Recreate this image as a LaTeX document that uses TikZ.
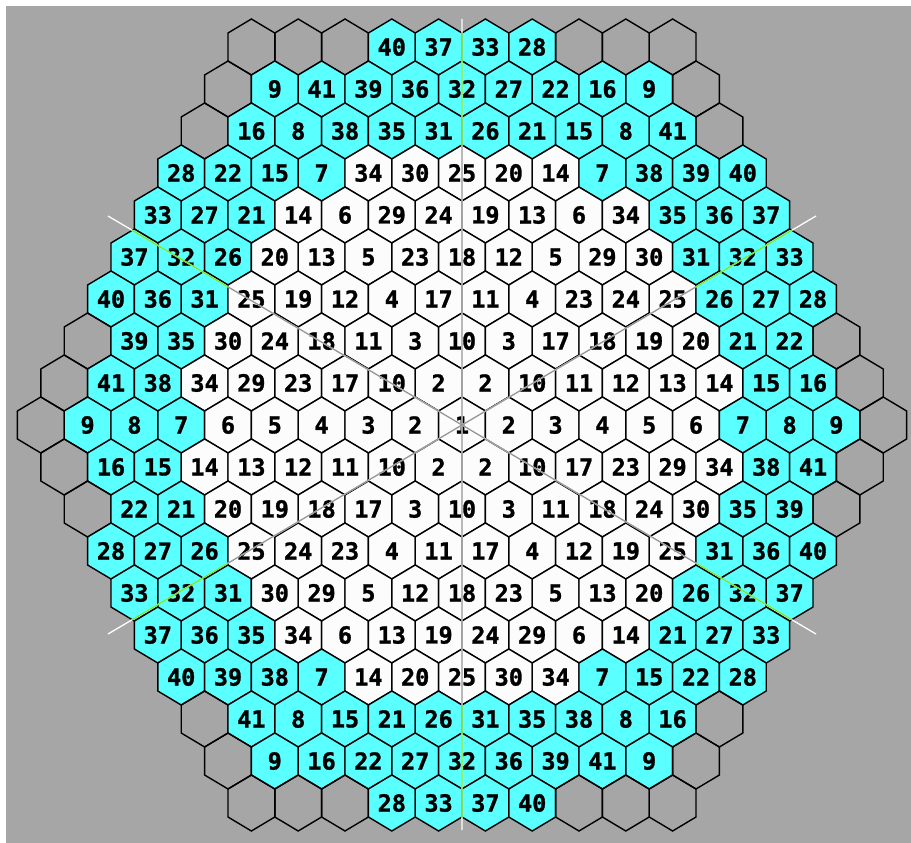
\documentclass[tikz,border=0pt]{standalone}
\usepackage{fontspec}
\newfontfamily\hexfont{DejaVu Sans Mono Bold}[FakeBold=1.2]
\definecolor{bggray}{RGB}{166,166,166}
\definecolor{cellcyan}{RGB}{90,255,255}
\definecolor{cellwhite}{RGB}{252,252,252}
\definecolor{linelime}{RGB}{110,235,40}
\definecolor{linegray}{RGB}{150,150,150}
\tikzset{
  hexcell/.style={draw=black, line width=1.4pt, line join=miter},
  hexp/.style 2 args={insert path={(#1,#2-28) -- (#1+23.4,#2-14) -- (#1+23.4,#2+14) -- (#1,#2+28) -- (#1-23.4,#2+14) -- (#1-23.4,#2-14) -- cycle}},
  numlabel/.style={font=\hexfont\fontsize{23.5}{23.5}\selectfont, inner sep=0pt, text=black},
  symline/.style={line width=1.3pt}
}
\def\ctype{{0,1,1,1,1,1,1,2,2,2,1,1,1,1,1,2,2,1,1,1,1,2,2,1,1,1,2,2,2,1,1,2,2,2,1,2,2,2,2,2,2,2}}
\def\rowdata{%
-9/{0,0,0,40,37,33,28,0,0,0},
-8/{0,9,41,39,36,32,27,22,16,9,0},
-7/{0,16,8,38,35,31,26,21,15,8,41,0},
-6/{28,22,15,7,34,30,25,20,14,7,38,39,40},
-5/{33,27,21,14,6,29,24,19,13,6,34,35,36,37},
-4/{37,32,26,20,13,5,23,18,12,5,29,30,31,32,33},
-3/{40,36,31,25,19,12,4,17,11,4,23,24,25,26,27,28},
-2/{0,39,35,30,24,18,11,3,10,3,17,18,19,20,21,22,0},
-1/{0,41,38,34,29,23,17,10,2,2,10,11,12,13,14,15,16,0},
0/{0,9,8,7,6,5,4,3,2,1,2,3,4,5,6,7,8,9,0},
1/{0,16,15,14,13,12,11,10,2,2,10,17,23,29,34,38,41,0},
2/{0,22,21,20,19,18,17,3,10,3,11,18,24,30,35,39,0},
3/{28,27,26,25,24,23,4,11,17,4,12,19,25,31,36,40},
4/{33,32,31,30,29,5,12,18,23,5,13,20,26,32,37},
5/{37,36,35,34,6,13,19,24,29,6,14,21,27,33},
6/{40,39,38,7,14,20,25,30,34,7,15,22,28},
7/{0,41,8,15,21,26,31,35,38,8,16,0},
8/{0,9,16,22,27,32,36,39,41,9,0},
9/{0,0,0,28,33,37,40,0,0,0}}
\begin{document}
\begin{tikzpicture}[x=1pt,y=-1pt]
\useasboundingbox (0,0) rectangle (911,843);
\fill[white] (0,0) rectangle (911,843);
\fill[bggray] (6,6) rectangle (911,843);
% cells
\foreach \r/\row in \rowdata {
  \pgfmathsetmacro\n{19-abs(\r)}
  \pgfmathsetmacro\y{425+42*\r}
  \foreach \v [count=\i from 0] in \row {
    \pgfmathsetmacro\x{462+(\i-(\n-1)/2)*46.8}
    \pgfmathtruncatemacro\t{\ctype[\v]}
    \ifnum\t=0
      \draw[hexcell] [hexp={\x}{\y}];
    \else
      \ifnum\t=2 \def\fc{cellcyan}\else \def\fc{cellwhite}\fi
      \draw[hexcell, fill=\fc] [hexp={\x}{\y}];
      \node[numlabel] (h\r-\i) at (\x,\y) {\v};
    \fi
  }
}
% symmetry lines
\coordinate (ctr) at (462,425);
\coordinate (vt) at (462,19);
\coordinate (vb) at (462,830);
\coordinate (ul) at (108,216);
\coordinate (lr) at (816,634);
\coordinate (ll) at (108,634);
\coordinate (ur) at (816,216);
\draw[symline, white] (vt) -- (vb) (ul) -- (lr) (ll) -- (ur);
\foreach \r/\row in \rowdata {
  \pgfmathsetmacro\n{19-abs(\r)}
  \pgfmathsetmacro\y{425+42*\r}
  \foreach \v [count=\i from 0] in \row {
    \pgfmathsetmacro\x{462+(\i-(\n-1)/2)*46.8}
    \pgfmathtruncatemacro\t{\ctype[\v]}
    \ifnum\t>0
      \ifnum\t=2 \def\lc{linelime}\else \def\lc{linegray}\fi
      \begin{scope}
        \clip [hexp={\x}{\y}];
        \draw[symline, \lc] (vt) -- (vb) (ul) -- (lr) (ll) -- (ur);
      \end{scope}
    \fi
  }
}
\end{tikzpicture}
\end{document}
